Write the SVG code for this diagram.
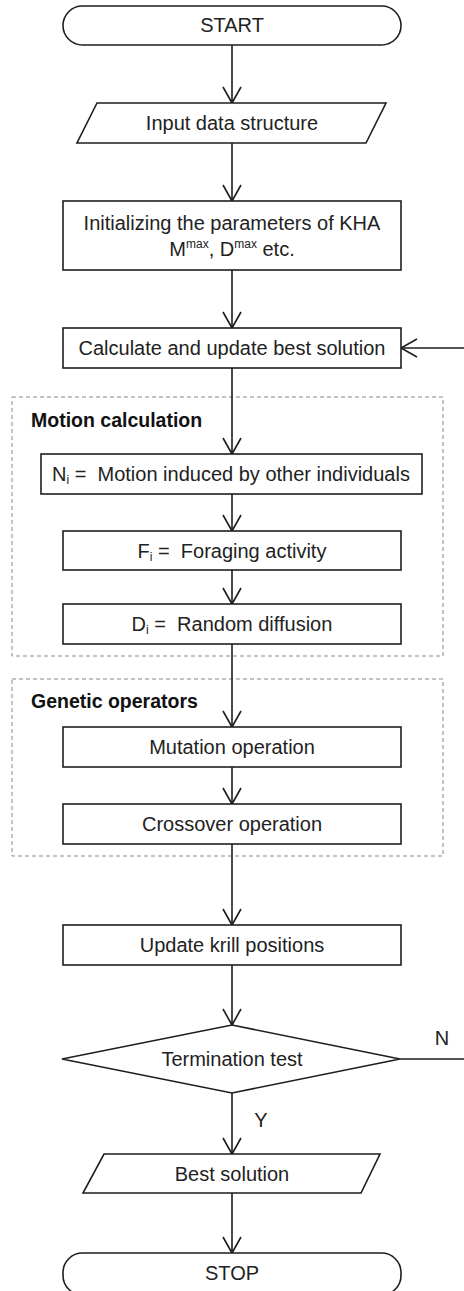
<svg xmlns="http://www.w3.org/2000/svg" width="464" height="1291" viewBox="0 0 464 1291">
<style>
.n{fill:#fff;stroke:#1e1e1e;stroke-width:1.6}
.t{font-family:"Liberation Sans",Arial,sans-serif;font-size:20px;fill:#222;text-anchor:middle}
.b{font-family:"Liberation Sans",Arial,sans-serif;font-size:19.5px;font-weight:bold;fill:#111}
.g{fill:none;stroke:#8a8a8a;stroke-width:1;stroke-dasharray:4 3}
.c{fill:none;stroke:#1e1e1e;stroke-width:1.6}
.s{font-size:12px}
</style>
<defs>
<marker id="ah" markerUnits="userSpaceOnUse" orient="auto" refX="0" refY="0" markerWidth="20" markerHeight="22" viewBox="-18 -11 20 22" overflow="visible">
<path d="M-16,-9 L0,0 L-16,9" fill="none" stroke="#1e1e1e" stroke-width="1.6"/>
</marker>
</defs>
<g id="groups">
<rect id="motion-group" class="g" x="12" y="397" width="431" height="259"/>
<text class="b" x="31" y="427">Motion calculation</text>
<rect id="genetic-group" class="g" x="12" y="679" width="431" height="177"/>
<text class="b" x="31" y="708">Genetic operators</text>
</g>
<g id="connectors">
<line class="c" x1="232" y1="45" x2="232" y2="103" marker-end="url(#ah)"/>
<line class="c" x1="232" y1="143" x2="232" y2="201" marker-end="url(#ah)"/>
<line class="c" x1="232" y1="270" x2="232" y2="328" marker-end="url(#ah)"/>
<line class="c" x1="232" y1="368" x2="232" y2="454" marker-end="url(#ah)"/>
<line class="c" x1="232" y1="494" x2="232" y2="531" marker-end="url(#ah)"/>
<line class="c" x1="232" y1="570" x2="232" y2="604" marker-end="url(#ah)"/>
<line class="c" x1="232" y1="644" x2="232" y2="727" marker-end="url(#ah)"/>
<line class="c" x1="232" y1="767" x2="232" y2="804" marker-end="url(#ah)"/>
<line class="c" x1="232" y1="844" x2="232" y2="925" marker-end="url(#ah)"/>
<line class="c" x1="232" y1="965" x2="232" y2="1025" marker-end="url(#ah)"/>
<line class="c" x1="232" y1="1093" x2="232" y2="1154" marker-end="url(#ah)"/>
<line class="c" x1="232" y1="1193" x2="232" y2="1253" marker-end="url(#ah)"/>
<polyline class="c" points="400,1059 467,1059 467,348 401,348" marker-end="url(#ah)"/>
<text class="t" x="442" y="1045">N</text>
<text class="t" x="261" y="1127">Y</text>
</g>
<g id="start">
<rect class="n" x="63" y="6" width="338" height="39" rx="19.5"/>
<text class="t" x="232" y="32">START</text>
</g>
<g id="input">
<polygon class="n" points="97,103 386,103 366,143 77,143"/>
<text class="t" x="232" y="130">Input data structure</text>
</g>
<g id="init">
<rect class="n" x="63" y="201" width="338" height="69"/>
<text class="t" x="232" y="230">Initializing the parameters of KHA</text>
<text class="t" x="232" y="256">M<tspan class="s" dy="-8">max</tspan><tspan dy="8">, D</tspan><tspan class="s" dy="-8">max</tspan><tspan dy="8"> etc.</tspan></text>
</g>
<g id="calc">
<rect class="n" x="63" y="328" width="338" height="40"/>
<text class="t" x="232" y="355">Calculate and update best solution</text>
</g>
<g id="motion-n">
<rect class="n" x="41" y="454" width="381" height="40"/>
<text class="t" x="231" y="481" xml:space="preserve">N<tspan class="s" dy="3">i</tspan><tspan dy="-3"> =  Motion induced by other individuals</tspan></text>
</g>
<g id="motion-f">
<rect class="n" x="63" y="531" width="338" height="39"/>
<text class="t" x="232" y="558" xml:space="preserve">F<tspan class="s" dy="3">i</tspan><tspan dy="-3"> =  Foraging activity</tspan></text>
</g>
<g id="motion-d">
<rect class="n" x="63" y="604" width="338" height="40"/>
<text class="t" x="232" y="631" xml:space="preserve">D<tspan class="s" dy="3">i</tspan><tspan dy="-3"> =  Random diffusion</tspan></text>
</g>
<g id="mutation">
<rect class="n" x="63" y="727" width="338" height="40"/>
<text class="t" x="232" y="754">Mutation operation</text>
</g>
<g id="crossover">
<rect class="n" x="63" y="804" width="338" height="40"/>
<text class="t" x="232" y="831">Crossover operation</text>
</g>
<g id="update">
<rect class="n" x="63" y="925" width="338" height="40"/>
<text class="t" x="232" y="952">Update krill positions</text>
</g>
<g id="termination">
<polygon class="n" points="232,1025 400,1059 232,1093 62,1059"/>
<text class="t" x="232" y="1066">Termination test</text>
</g>
<g id="best">
<polygon class="n" points="104,1154 380,1154 361,1193 83,1193"/>
<text class="t" x="232" y="1181">Best solution</text>
</g>
<g id="stop">
<rect class="n" x="63" y="1253" width="338" height="42" rx="19.5"/>
<text class="t" x="232" y="1280">STOP</text>
</g>
</svg>
